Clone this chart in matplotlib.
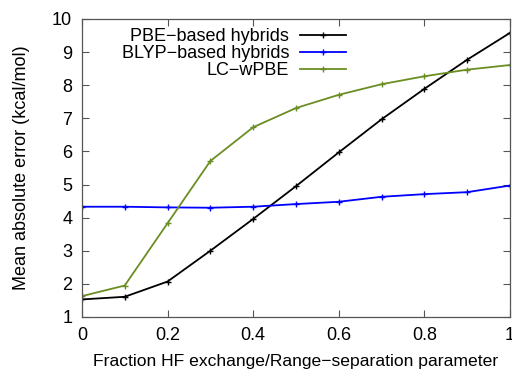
import matplotlib
matplotlib.use("Agg")
import matplotlib.pyplot as plt

frac = [0.0, 0.1, 0.2, 0.3, 0.4, 0.5, 0.6, 0.7, 0.8, 0.9, 1.0]
pbe = [1.53, 1.61, 2.07, 3.0, 3.96, 4.95, 5.97, 6.97, 7.89, 8.77, 9.58]
blyp = [4.33, 4.33, 4.31, 4.30, 4.33, 4.41, 4.48, 4.63, 4.71, 4.77, 4.97]
lcwpbe = [1.63, 1.95, 3.83, 5.71, 6.73, 7.31, 7.71, 8.03, 8.27, 8.47, 8.61]

xticks = [0, 0.2, 0.4, 0.6, 0.8, 1]
xticklabels = ["0", "0.2", "0.4", "0.6", "0.8", "1"]
yticks = list(range(1, 11))

plt.rcParams["font.family"] = ["Liberation Sans", "DejaVu Sans"]
plt.rcParams["font.size"] = 13

fig = plt.figure(figsize=(5.12, 3.71), dpi=100)
ax = fig.add_axes([0.160, 0.1456, 0.836, 0.8032])

ax.plot(frac, pbe, "-+", color="black", lw=1.3, ms=5, mew=1.0, label="PBE\u2212based hybrids")
ax.plot(frac, blyp, "-+", color="#0000ff", lw=1.3, ms=5, mew=1.0, label="BLYP\u2212based hybrids")
ax.plot(frac, lcwpbe, "-+", color="#6b8e23", lw=1.3, ms=5, mew=1.0, label="LC\u2212wPBE")

ax.set_xlim(0, 1)
ax.set_ylim(1, 10)
ax.set_xticks(xticks)
ax.set_xticklabels(xticklabels)
ax.set_yticks(yticks)
ax.tick_params(direction="in", top=True, right=True, length=5, width=0.8,
               color="#555555", pad=7)
for s in ax.spines.values():
    s.set_color("#555555")
    s.set_linewidth(0.9)

ax.set_xlabel("Fraction HF exchange/Range\u2212separation parameter", fontsize=12.6, labelpad=7.5)
ax.set_ylabel("Mean absolute error (kcal/mol)", labelpad=16)

leg = fig.legend(loc="upper right", bbox_to_anchor=(346 / 512, (371 - 28) / 371),
                 frameon=False, markerfirst=False, handlelength=2.55,
                 handletextpad=0.6, labelspacing=0.0, borderaxespad=0, borderpad=0)
for t in leg.get_texts():
    t.set_ha("right")
leg._legend_box.align = "right"

fig.savefig("out.png", dpi=100)
